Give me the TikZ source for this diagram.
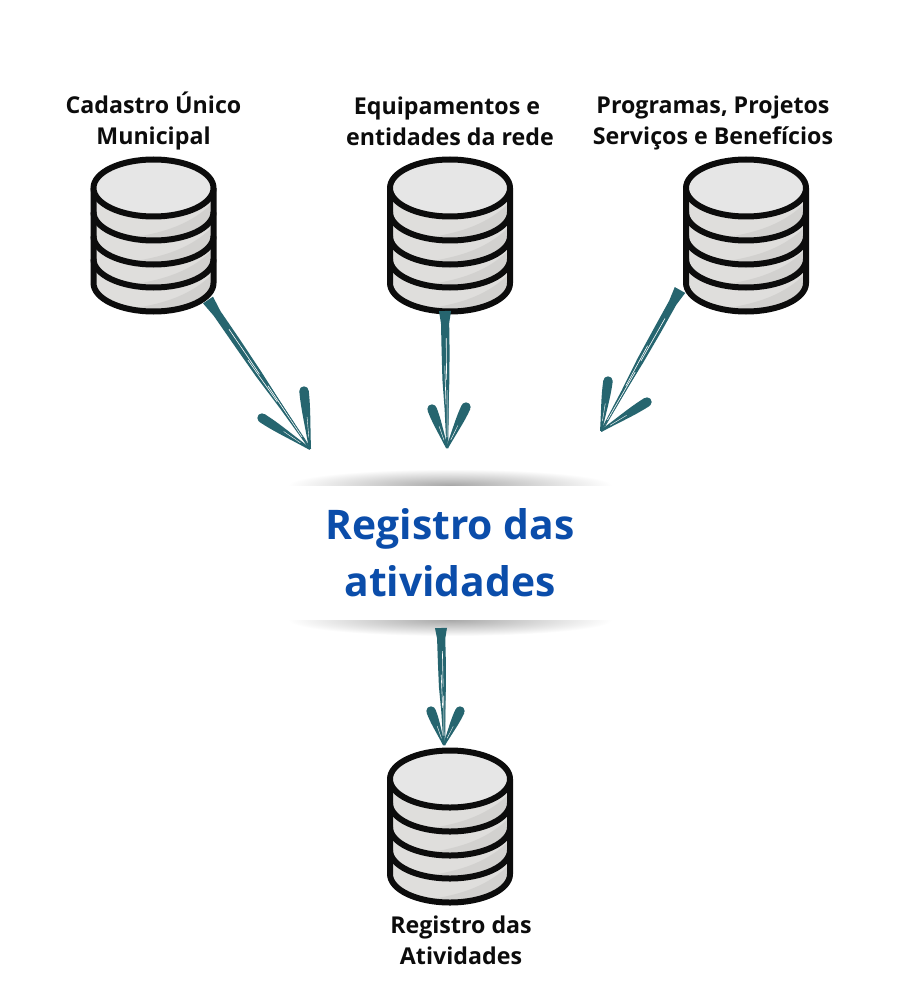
\documentclass[tikz,border=0pt]{standalone}
\usepackage{fontspec}
\setmainfont{Open Sans}[BoldFont={Open Sans Bold}]
\usetikzlibrary{calc}
\definecolor{teal1}{HTML}{26656F}
\definecolor{ink}{HTML}{0C0C0C}
\definecolor{blue1}{HTML}{0B4DAA}
\definecolor{bandL}{HTML}{DFDEDC}
\definecolor{bandD}{HTML}{D2D1CF}
\definecolor{topF}{HTML}{E6E6E6}
\tikzset{
  lbl/.style={font=\bfseries\fontsize{23.2}{31}\selectfont,text=ink,align=center,inner sep=0pt},
  big/.style={font=\bfseries\fontsize{40.8}{57}\selectfont,text=blue1,align=center,inner sep=0pt},
  dbline/.style={draw=ink,line width=6pt,line join=round},
  brush/.style={fill=teal1,draw=none},
  streak/.style={draw=white,line width=.6pt,line cap=round},
  strand/.style={draw=teal1,line width=.7pt,line cap=round}
}
% #1 = name of the coordinate at the centre of the top ellipse
\newcommand{\dbase}[1]{%
  \fill[bandL] ($(#1)+(-60,0)$) -- ($(#1)+(-60,95)$) arc[start angle=180,end angle=360,x radius=60pt,y radius=28.5pt] -- ($(#1)+(60,0)$) -- cycle;
  \foreach \k in {24,48,71,95}{
    \fill[bandD] ($(#1)+(60,\k-10)$) .. controls ($(#1)+(38,\k+12)$) and ($(#1)+(12,\k+20)$) .. ($(#1)+(-18,\k+25)$)
       .. controls ($(#1)+(15,\k+30)$) and ($(#1)+(50,\k+20)$) .. ($(#1)+(60,\k+2)$) -- cycle;
  }
  \foreach \k in {24,48,71}{
    \draw[dbline] ($(#1)+(-60,\k)$) arc[start angle=180,end angle=360,x radius=60pt,y radius=28.5pt];
  }
  \draw[dbline] ($(#1)+(-60,0)$) -- ($(#1)+(-60,95)$) arc[start angle=180,end angle=360,x radius=60pt,y radius=28.5pt] -- ($(#1)+(60,0)$);
  \draw[dbline,fill=topF] (#1) ellipse[x radius=60pt,y radius=28.5pt];
}
% one brush stroke, round and thick at #1, thin at #2, half width #3
\newcommand{\stroketo}[3]{%
  \fill[brush] (#1) circle[radius=#3 pt];
  \fill[brush] ($(#1)!#3 pt!90:(#2)$)
    .. controls ($(#1)!.3!(#2)!#3 pt*1.05!90:(#2)$) and ($(#1)!.55!(#2)!#3 pt*.6!90:(#2)$) .. ($(#2)!1pt!-90:(#1)$)
    -- ($(#2)!1pt!90:(#1)$)
    .. controls ($(#1)!.55!(#2)!#3 pt*.6!-90:(#2)$) and ($(#1)!.3!(#2)!#3 pt*1.05!-90:(#2)$) .. ($(#1)!#3 pt!-90:(#2)$) -- cycle;
  \draw[streak,line width=.4pt] ($(#1)!.45!(#2)!.4pt!90:(#2)$) -- ($(#1)!.8!(#2)$);
}
% shaft from #1 to tip #2, barbs ending at #3 and #4
\newcommand{\brusharrow}[4]{%
  \fill[brush] ($(#1)!6pt!90:(#2)$) -- ($(#1)!.09!(#2)!4pt!90:(#2)$) -- ($(#1)!.28!(#2)!4pt!90:(#2)$) -- ($(#1)!.5!(#2)!3.4pt!90:(#2)$) -- ($(#1)!.72!(#2)!2pt!90:(#2)$) -- ($(#2)!.6pt!-90:(#1)$)
     -- ($(#2)!.6pt!90:(#1)$) -- ($(#1)!.72!(#2)!1.8pt!-90:(#2)$) -- ($(#1)!.5!(#2)!3.6pt!-90:(#2)$) -- ($(#1)!.28!(#2)!4pt!-90:(#2)$) -- ($(#1)!.09!(#2)!4.2pt!-90:(#2)$) -- ($(#1)!6pt!-90:(#2)$) -- cycle;
  \draw[strand] ($(#1)!.3!(#2)!3pt!90:(#2)$) -- ($(#2)!1pt!-90:(#1)$);
  \draw[streak] ($(#1)!.2!(#2)!.8pt!90:(#2)$) -- ($(#1)!.5!(#2)!.6pt!90:(#2)$);
  \draw[streak] ($(#1)!.4!(#2)!-1pt!90:(#2)$) -- ($(#1)!.68!(#2)!-.4pt!90:(#2)$);
  \draw[streak] ($(#1)!.58!(#2)!1pt!90:(#2)$) -- ($(#1)!.92!(#2)!.2pt!90:(#2)$);
  \stroketo{#3}{#2}{4.7}
  \stroketo{#4}{#2}{4.7}
}
\begin{document}
\begin{tikzpicture}[x=1pt,y=-1pt]
\useasboundingbox (0,0) rectangle (900,1000);
\fill[white] (0,0) rectangle (900,1000);

% shadows of the panel
\begin{scope}
  \clip (280,465) rectangle (620,485);
  \shade[inner color=black!34,outer color=white] (450,485) ellipse[x radius=162pt,y radius=16pt];
\end{scope}
\begin{scope}
  \clip (280,620) rectangle (620,640);
  \shade[inner color=black!34,outer color=white] (450,620) ellipse[x radius=162pt,y radius=16pt];
\end{scope}

\coordinate (db1) at (153.5,188);
\coordinate (db2) at (450,188);
\coordinate (db3) at (746,188);
\coordinate (db4) at (450,779);
\dbase{db1}\dbase{db2}\dbase{db3}\dbase{db4}

\node[lbl] (l1) at (153.5,121) {Cadastro Único\\Municipal};
\node[lbl] (l2) at (450,121) {Equipamentos e\hspace*{6pt}\\entidades da rede};
\node[lbl] (l3) at (713,123) {Programas, Projetos\\Serviços e Benefícios};
\node[lbl] (l4) at (461,940.5) {Registro das\\Atividades};
\node[big] (reg) at (450,553) {Registro das\\atividades};

\coordinate (a1) at (208,300); \coordinate (t1) at (310,449);
\coordinate (b1a) at (304,391); \coordinate (b1b) at (262,418);
\coordinate (a2) at (445,311); \coordinate (t2) at (447,448);
\coordinate (b2a) at (432,409); \coordinate (b2b) at (466,407);
\coordinate (a3) at (680,290); \coordinate (t3) at (601,431);
\coordinate (b3a) at (608,381); \coordinate (b3b) at (647,402);
\coordinate (a4) at (441,628); \coordinate (t4) at (444,745);
\coordinate (b4a) at (431,711); \coordinate (b4b) at (460,711);
\brusharrow{a1}{t1}{b1a}{b1b}
\brusharrow{a2}{t2}{b2a}{b2b}
\brusharrow{a3}{t3}{b3a}{b3b}
\brusharrow{a4}{t4}{b4a}{b4b}
\end{tikzpicture}
\end{document}
